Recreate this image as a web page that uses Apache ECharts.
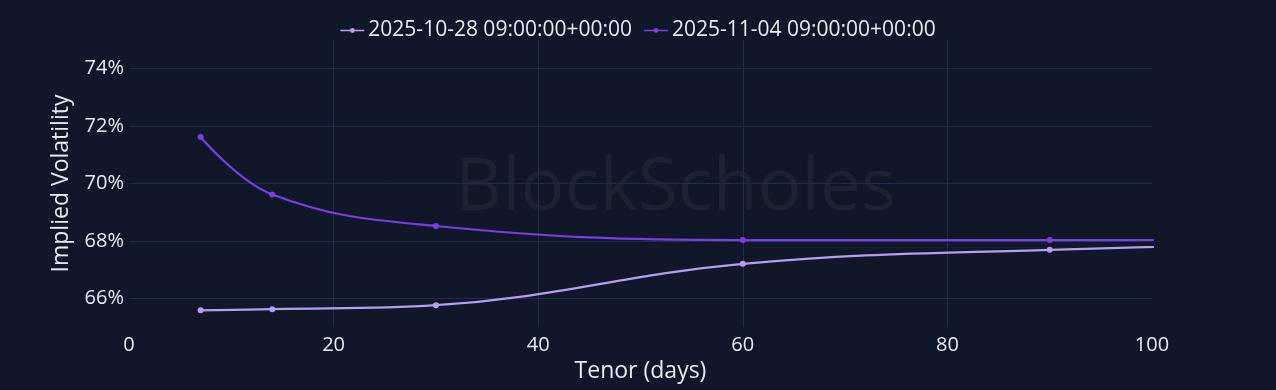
<!DOCTYPE html>
<html><head><meta charset="utf-8">
<script src="https://cdn.jsdelivr.net/npm/echarts@6/dist/echarts.min.js"></script>
<style>html,body{margin:0;padding:0;background:#0f1729;}#c{width:1276px;height:390px;}</style>
</head><body><div id="c"></div>
<script>
const tenors = [7, 14, 30, 60, 90, 180];
const seriesNames = ['2025-10-28 09:00:00+00:00', '2025-11-04 09:00:00+00:00'];
const vol1028 = [65.58, 65.62, 65.76, 67.2, 67.69, 68.5];
const vol1104 = [71.62, 69.62, 68.52, 68.03, 68.03, 68.35];
const xLabels = [0, 20, 40, 60, 80, 100];
const xGrid = [20, 40, 60, 80];
const yTicks = [66, 68, 70, 72, 74];

const font = '"Open Sans", "Noto Sans", sans-serif';
const txt = '#e8eaf0';
const gridC = '#1f2d4a';
const colors = ['#b79cf2', '#7a3de6'];

const chart = echarts.init(document.getElementById('c'));
chart.setOption({
  backgroundColor: '#0f1729',
  animation: false,
  graphic: [{
    type: 'text', left: 455, top: 153, z: 0, silent: true,
    style: { text: 'BlockScholes', fill: '#1d2231', font: '500 73px "Open Sans", sans-serif' }
  }],
  legend: {
    top: 15, left: 'center', itemWidth: 24, itemHeight: 10, itemGap: 12,
    textStyle: { color: txt, fontSize: 21, fontFamily: font, padding: [0, 0, 0, -1] },
    data: seriesNames.map((n, i) => ({ name: n, icon: 'path://M0,4.3H24V5.7H0ZM12,2.6A2.4,2.4 0 1 1 11.99,2.6Z', itemStyle: { color: colors[i] } }))
  },
  grid: { left: 129, right: 124, top: 40, bottom: 63, containLabel: false },
  xAxis: {
    type: 'value', min: 0, max: 100,
    name: 'Tenor (days)', nameLocation: 'middle', nameGap: 31,
    nameTextStyle: { color: txt, fontSize: 23, fontFamily: font },
    axisLine: { show: false }, axisTick: { show: false, customValues: xGrid },
    axisLabel: { customValues: xLabels, color: txt, fontSize: 20, fontFamily: font, margin: 8 },
    splitLine: { show: true, lineStyle: { color: gridC, width: 1 } }
  },
  yAxis: {
    type: 'value', min: 65, max: 75,
    name: 'Implied Volatility', nameLocation: 'middle', nameGap: 56, nameRotate: 90,
    nameTextStyle: { color: txt, fontSize: 23, fontFamily: font },
    axisLine: { show: false }, axisTick: { show: false, customValues: yTicks },
    axisLabel: { customValues: yTicks, color: txt, fontSize: 20, fontFamily: font, margin: 5, formatter: v => v + '%' },
    splitLine: { show: true, lineStyle: { color: gridC, width: 1 } }
  },
  series: [
    { name: seriesNames[0], type: 'line', smooth: 0.4, clip: true, symbol: 'circle', symbolSize: 6,
      color: colors[0], lineStyle: { width: 2.2 }, data: tenors.map((t, i) => [t, vol1028[i]]) },
    { name: seriesNames[1], type: 'line', smooth: 0.4, clip: true, symbol: 'circle', symbolSize: 6,
      color: colors[1], lineStyle: { width: 2.2 }, data: tenors.map((t, i) => [t, vol1104[i]]) }
  ]
});
</script></body></html>
